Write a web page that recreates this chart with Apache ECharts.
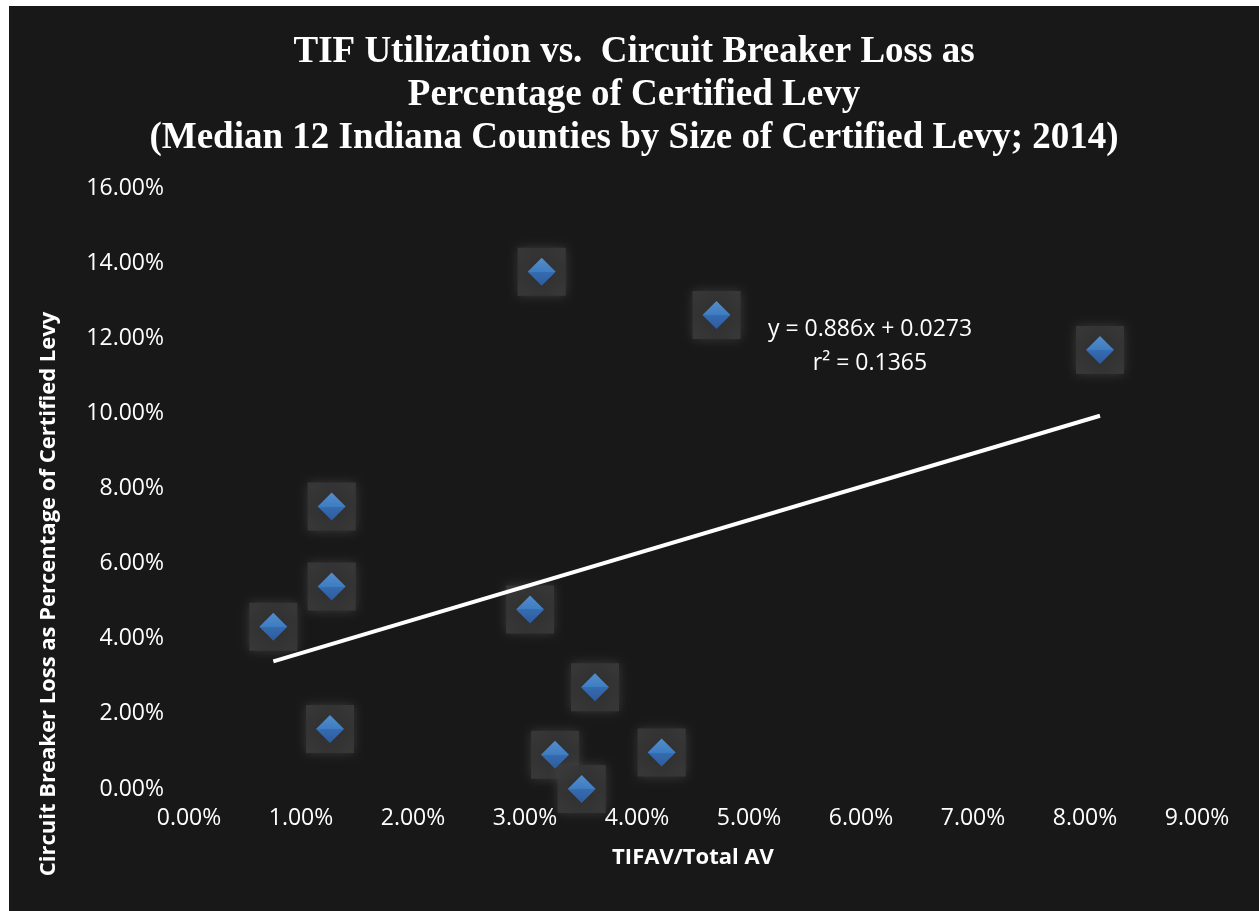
<!DOCTYPE html>
<html>
<head>
<meta charset="utf-8">
<title>TIF Utilization vs. Circuit Breaker Loss</title>
<script src="https://cdn.jsdelivr.net/npm/echarts@6/dist/echarts.min.js"></script>
<style>
  html, body { margin: 0; padding: 0; background: #181818; width: 1259px; height: 911px; overflow: hidden; }
  #edgeTop { position: absolute; left: 0; top: 0; width: 1259px; height: 6px; background: #ffffff; }
  #edgeLeft { position: absolute; left: 0; top: 0; width: 9px; height: 911px; background: #ffffff; }
  #chart { position: absolute; left: 9px; top: 6px; width: 1250px; height: 905px; }
</style>
</head>
<body>
<div id="edgeTop"></div>
<div id="edgeLeft"></div>
<div id="chart"></div>
<script>
// TIF assessed value share and circuit breaker loss share, one entry per county (fractions)
const tifShare = [0.00753, 0.01259, 0.01274, 0.01274, 0.03045, 0.03149, 0.03268, 0.03506, 0.03625, 0.04220, 0.04710, 0.08134];
const cbLossShare = [0.0432, 0.0160, 0.0539, 0.0752, 0.0478, 0.1377, 0.0091, 0.0000, 0.0271, 0.0097, 0.1262, 0.1169];

// Linear trend as reported on the chart
const trendSlope = 0.886;
const trendIntercept = 0.0273;
const trendR2 = 0.1365;

const xTicks = { min: 0, max: 0.09, step: 0.01 };
const yTicks = { min: 0, max: 0.16, step: 0.02 };

const titleLines = [
  'TIF Utilization vs.  Circuit Breaker Loss as',
  'Percentage of Certified Levy',
  '(Median 12 Indiana Counties by Size of Certified Levy; 2014)'
];
const xName = 'TIFAV/Total AV';
const yName = 'Circuit Breaker Loss as Percentage of Certified Levy';

const points = tifShare.map((x, i) => [x, cbLossShare[i]]);
const xMin = Math.min(...tifShare);
const xMax = Math.max(...tifShare);
const trendPoints = [
  [xMin, trendSlope * xMin + trendIntercept],
  [xMax, trendSlope * xMax + trendIntercept]
];

const pct = v => (v * 100).toFixed(2) + '%';
const sans = '"Open Sans", "DejaVu Sans", sans-serif';

const chart = echarts.init(document.getElementById('chart'), null, { renderer: 'canvas' });

chart.setOption({
  backgroundColor: '#181818',
  animation: false,
  title: {
    text: titleLines.join('\n'),
    left: 'center',
    top: 20,
    textStyle: {
      color: '#ffffff',
      fontFamily: '"Liberation Serif", "Times New Roman", serif',
      fontWeight: 'bold',
      fontSize: 37,
      lineHeight: 43
    }
  },
  grid: { left: 180, right: 62, top: 182, bottom: 122, containLabel: false },
  xAxis: {
    type: 'value',
    min: xTicks.min,
    max: xTicks.max,
    interval: xTicks.step,
    name: xName,
    nameLocation: 'middle',
    nameGap: 58,
    nameTextStyle: { color: '#ffffff', fontFamily: sans, fontWeight: 'bold', fontSize: 22 },
    axisLine: { show: false },
    axisTick: { show: false },
    splitLine: { show: false },
    axisLabel: { color: '#ffffff', fontFamily: sans, fontSize: 23, margin: 18, formatter: pct }
  },
  yAxis: {
    type: 'value',
    min: yTicks.min,
    max: yTicks.max,
    interval: yTicks.step,
    axisLine: { show: false },
    axisTick: { show: false },
    splitLine: { show: false },
    axisLabel: { color: '#ffffff', fontFamily: sans, fontSize: 23, margin: 25, formatter: pct }
  },
  graphic: [
    {
      type: 'text',
      x: 40,
      y: 588,
      rotation: Math.PI / 2,
      style: {
        text: yName,
        fill: '#ffffff',
        font: 'bold 22px ' + sans,
        align: 'center',
        verticalAlign: 'middle'
      }
    },
    {
      type: 'text',
      x: 861,
      y: 340,
      style: {
        text: 'y = ' + trendSlope + 'x + ' + trendIntercept + '\nr\u00B2 = ' + trendR2,
        fill: '#ffffff',
        font: '23px ' + sans,
        lineHeight: 34,
        align: 'center',
        verticalAlign: 'middle'
      }
    }
  ],
  series: [
    {
      // soft grey plate behind each marker
      type: 'scatter',
      data: points,
      symbol: 'rect',
      symbolSize: 48,
      silent: true,
      z: 1,
      itemStyle: {
        color: new echarts.graphic.RadialGradient(0.5, 0.5, 0.7, [
          { offset: 0, color: '#2a2a2a' },
          { offset: 0.6, color: '#343434' },
          { offset: 1, color: '#3d3d3d' }
        ]),
        shadowBlur: 10,
        shadowColor: 'rgba(70,70,70,0.9)'
      }
    },
    {
      type: 'line',
      data: trendPoints,
      symbol: 'none',
      silent: true,
      z: 3,
      lineStyle: { color: '#ffffff', width: 4 }
    },
    {
      type: 'scatter',
      data: points,
      symbol: 'diamond',
      symbolSize: [28, 28],
      z: 4,
      itemStyle: {
        color: new echarts.graphic.LinearGradient(0, 0, 0, 1, [
          { offset: 0, color: '#5ca5f0' },
          { offset: 0.5, color: '#4290e6' },
          { offset: 0.5, color: '#387bd2' },
          { offset: 1, color: '#2c66b8' }
        ])
      }
    }
  ]
});
</script>
</body>
</html>
